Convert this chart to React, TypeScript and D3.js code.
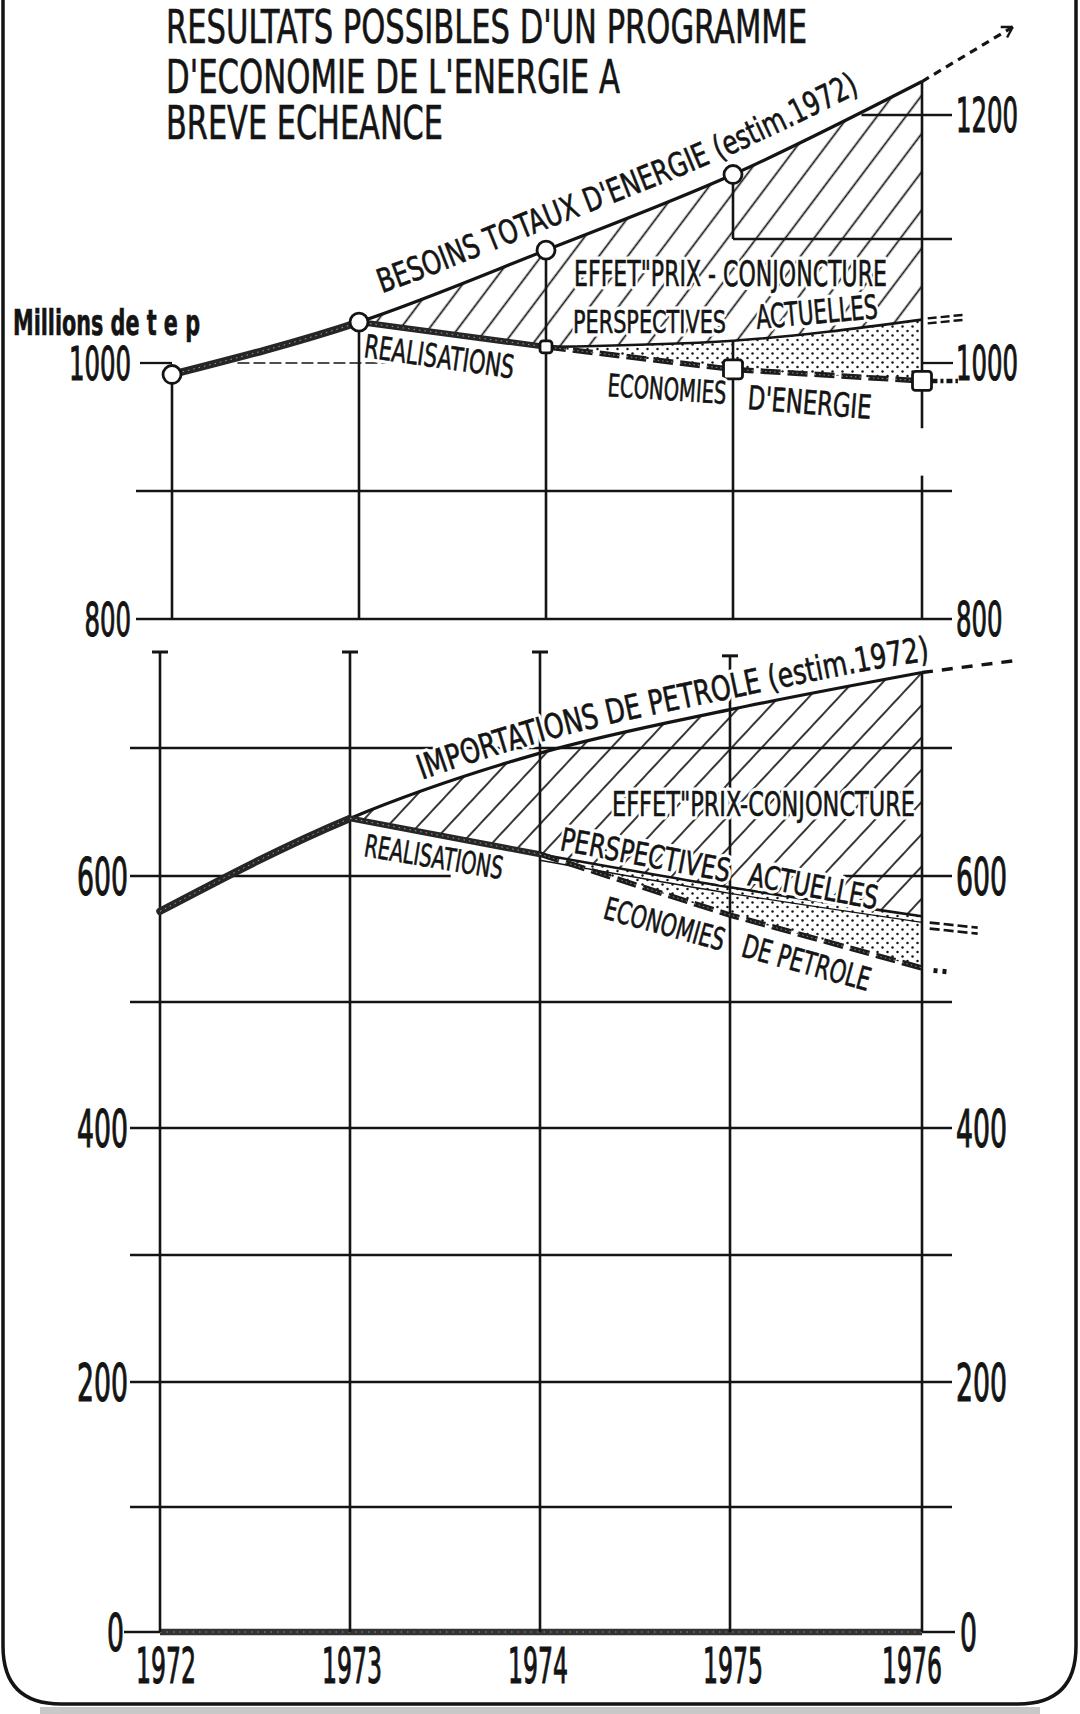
import React, { useLayoutEffect, useRef, useState } from "react";
import * as d3 from "d3";

type P = [number, number];

// ---------- DATA ----------
const years = [1972, 1973, 1974, 1975, 1976];
const realisationYears = [1972, 1973, 1974];
const projectionYears = [1974, 1975, 1976];

// top panel : besoins totaux d'energie (Mtep)
const besoinsTotaux = [991, 1033, 1091, 1152, 1227];
const realisationsEnergie = [991, 1033, 1013];
const perspectivesEnergie = [1013, 1018, 1035];
const economiesEnergie = [1013, 995, 986];

// bottom panel : importations de petrole (Mtep)
const importationsPetrole = [572, 645, 696, 730, 759];
const realisationsPetrole = [572, 645, 617];
const perspectivesPetrole = [617, 591, 568];
const economiesPetrole = [617, 569, 527];

// extrapolations beyond 1976 [year, value]
const besoinsSuite: P[] = [[1976, 1227], [1976.48, 1271]];
const perspectivesEnergieSuite: P[] = [[1976.03, 1036], [1976.23, 1039]];
const economiesEnergieSuite: P[] = [[1976.05, 986], [1976.19, 986]];
const importationsSuite: P[] = [[1976, 759], [1976.47, 768]];
const perspectivesPetroleSuite: P[] = [[1976.04, 563], [1976.29, 559]];
const economiesPetroleSuite: P[] = [[1976.06, 525], [1976.13, 524]];

const topGridValues = [800, 900, 1000, 1100, 1200];
const topLeftTicks = [1000, 800];
const topRightTicks = [1200, 1000, 800];
const bottomGridValues = [100, 200, 300, 400, 500, 600, 700];
const bottomTicks = [600, 400, 200, 0];
const yearLabels = ["1972", "1973", "1974", "1975", "1976"];

const titleLines = [
  "RESULTATS POSSIBLES D'UN PROGRAMME",
  "D'ECONOMIE DE L'ENERGIE A",
  "BREVE ECHEANCE",
];

// ---------- LAYOUT ----------
const W = 1080;
const H = 1714;
const FONT = "'DejaVu Sans Condensed', 'Liberation Sans Narrow', 'DejaVu Sans', sans-serif";
const INK = "#141414";

const xTop = d3.scaleLinear().domain(years).range([172, 359, 546, 733, 922]);
const yTop = d3.scaleLinear().domain([800, 1000, 1200]).range([619, 363, 115]);
const xBot = d3.scaleLinear().domain(years).range([160, 350, 540, 730, 922]);
const yBot = d3.scaleLinear().domain([0, 200, 400, 600, 700]).range([1632, 1382, 1128, 876, 748]);
const xYearLabel = d3.scaleLinear().domain(years).range([166, 352, 538, 733, 912]);

const TOP_L = 136;
const BOT_L = 130;
const RIGHT = 952;

const zip = (xs: number[], vs: number[]): P[] => xs.map((x, i) => [x, vs[i]]);
const mkLine = (xs: any, ys: any, curve: any, dy = 0) =>
  d3.line<P>().x((d) => xs(d[0])).y((d) => ys(d[1]) + dy).curve(curve);
const mkArea = (xs: any, ys: any, curve: any, base: number) =>
  d3.area<P>().x((d) => xs(d[0])).y0(base).y1((d) => ys(d[1])).curve(curve);

const M = d3.curveMonotoneX;
const L = d3.curveLinear;

const Chain = ({ d, w = 7, clip }: { d: string; w?: number; clip?: string }) => (
  <g clipPath={clip}>
    <path d={d} fill="none" stroke="#262626" strokeWidth={w} strokeLinecap="round" strokeLinejoin="round" />
    <path d={d} fill="none" stroke="#fff" strokeWidth={1} strokeDasharray="1.5 4" opacity={0.55} />
  </g>
);

const DashBold = ({ d }: { d: string }) => (
  <g>
    <path d={d} fill="none" stroke="#1c1c1c" strokeWidth={5.5} strokeDasharray="20 7" />
    <path d={d} fill="none" stroke="#fff" strokeWidth={1} strokeDasharray="1.5 3" opacity={0.5} />
  </g>
);

const Label = ({
  text, x, y, a = 0, len, size, halo = true, weight = 400,
}: { text: string; x: number; y: number; a?: number; len: number; size: number; halo?: boolean; weight?: number }) => {
  const tr = `translate(${x},${y}) rotate(${a})`;
  return (
    <g>
      {halo && (
        <text transform={tr} fontSize={size} textLength={len} lengthAdjust="spacingAndGlyphs"
          fill="#fff" stroke="#fff" strokeWidth={7} strokeLinejoin="round" fontWeight={weight}>{text}</text>
      )}
      <text transform={tr} fontSize={size} textLength={len} lengthAdjust="spacingAndGlyphs"
        fill={INK} stroke={INK} strokeWidth={0.6} fontWeight={weight}>{text}</text>
    </g>
  );
};

// narrow numerals: horizontal squeeze by transform + exact width by textLength
const Num = ({ t, x, y, size, anchor, width }: { t: string; x: number; y: number; size: number; anchor: string; width: number }) => {
  const sx = 0.55;
  return (
    <text transform={`translate(${x},${y}) scale(${sx},1)`} fontSize={size} textAnchor={anchor} fill={INK}
      stroke={INK} strokeWidth={0.6 / sx} textLength={width / sx} lengthAdjust="spacingAndGlyphs">{t}</text>
  );
};

export default function App() {
  const besRef = useRef<SVGPathElement>(null);
  const impRef = useRef<SVGPathElement>(null);
  const [besFit, setBesFit] = useState({ s: 220, l: 520 });
  const [impFit, setImpFit] = useState({ s: 270, l: 530 });

  useLayoutEffect(() => {
    const fit = (p: SVGPathElement, x0: number, x1: number) => {
      const total = p.getTotalLength();
      const at = (tx: number) => {
        let lo = 0, hi = total;
        for (let i = 0; i < 40; i++) {
          const m = (lo + hi) / 2;
          if (p.getPointAtLength(m).x < tx) lo = m; else hi = m;
        }
        return lo;
      };
      const s = at(x0);
      return { s, l: at(x1) - s };
    };
    if (besRef.current) setBesFit(fit(besRef.current, 382, 860));
    if (impRef.current) setImpFit(fit(impRef.current, 422, 930));
  }, []);

  // ----- top series -----
  const bes = zip(years, besoinsTotaux);
  const realT = zip(realisationYears, realisationsEnergie);
  const perT = zip(projectionYears, perspectivesEnergie);
  const ecoT = zip(projectionYears, economiesEnergie);
  const tM = mkLine(xTop, yTop, M);
  const tL = mkLine(xTop, yTop, L);

  // ----- bottom series -----
  const imp = zip(years, importationsPetrole);
  const realB = zip(realisationYears, realisationsPetrole);
  const perB = zip(projectionYears, perspectivesPetrole);
  const ecoB = zip(projectionYears, economiesPetrole);
  const bM = mkLine(xBot, yBot, M);
  const bL = mkLine(xBot, yBot, L);

  const besLabelD = mkLine(xTop, yTop, M, -21)(bes) as string;
  const impLabelD = mkLine(xBot, yBot, M, -11)([...imp, importationsSuite[1]]) as string;

  // arrow at the end of the besoins extrapolation
  const e0 = [xTop(besoinsSuite[0][0]), yTop(besoinsSuite[0][1])];
  const e1 = [xTop(besoinsSuite[1][0]), yTop(besoinsSuite[1][1])];
  const ang = Math.atan2(e1[1] - e0[1], e1[0] - e0[0]);
  const arrowD = [ang + 2.6, ang - 2.6]
    .map((t) => `M${e1[0]},${e1[1]}L${e1[0] + 12 * Math.cos(t)},${e1[1] + 12 * Math.sin(t)}`)
    .join("");

  const topVerticals: [number, number, number][] = [
    [1972, besoinsTotaux[0], 800],
    [1973, besoinsTotaux[1], 800],
    [1974, besoinsTotaux[2], 800],
    [1975, besoinsTotaux[3], 1100],
    [1975, perspectivesEnergie[1], 800],
    [1976, besoinsTotaux[4], 949],
    [1976, 912, 800],
  ];
  const bottomVerticals: [number, number, number, boolean][] = [
    [1972, 775, 0, true],
    [1973, 775, 0, true],
    [1974, 775, 0, true],
    [1975, 772, 0, true],
    [1976, importationsPetrole[4], 0, false],
  ];

  const topGridSpans = (v: number): [number, number][] => {
    if (v === 1000) return [[140, xTop(1972)], [xTop(1976), RIGHT + 1]];
    if (v === 1100) return [[xTop(1975), RIGHT]];
    if (v === 1200) return [[xTop(1975.68), RIGHT]];
    return [[TOP_L, RIGHT]];
  };
  const botGridSpans = (v: number): [number, number][] => {
    if (v === 600) return [[BOT_L, xBot(1973.53)], [xBot(1975.59), RIGHT]];
    return [[BOT_L, RIGHT]];
  };

  const gridStroke = { stroke: INK, strokeWidth: 2.3, fill: "none" };

  return (
    <svg width={W} height={H} viewBox={`0 0 ${W} ${H}`}
      style={{ position: "absolute", left: 0, top: 0, display: "block", background: "#fff" }}
      fontFamily={FONT} fontStretch="condensed">
      <defs>
        <pattern id="hatchTop" patternUnits="userSpaceOnUse" width="23" height="23" patternTransform="rotate(37)">
          <line x1="11.5" y1="-1" x2="11.5" y2="24" stroke={INK} strokeWidth="1.7" />
        </pattern>
        <pattern id="hatchBot" patternUnits="userSpaceOnUse" width="22" height="22" patternTransform="rotate(43)">
          <line x1="11" y1="-1" x2="11" y2="23" stroke={INK} strokeWidth="1.7" />
        </pattern>
        <pattern id="dots" patternUnits="userSpaceOnUse" width="10" height="9">
          <circle cx="2.5" cy="2.5" r="1.25" fill={INK} />
          <circle cx="7.5" cy="7" r="1.25" fill={INK} />
        </pattern>
        <clipPath id="tBelowBes"><path d={mkArea(xTop, yTop, M, yTop(800))(bes) as string} /></clipPath>
        <clipPath id="tAboveLow">
          <path d={mkArea(xTop, yTop, L, 0)(realT.slice(1)) as string} />
          <path d={mkArea(xTop, yTop, M, 0)(perT) as string} />
        </clipPath>
        <clipPath id="tBelowPer"><path d={mkArea(xTop, yTop, M, yTop(800))(perT) as string} /></clipPath>
        <clipPath id="tAboveEco"><path d={mkArea(xTop, yTop, L, 0)(ecoT) as string} /></clipPath>
        <clipPath id="tRealSeg"><rect x={xTop(1972) - 12} y={0} width={xTop(1973) - xTop(1972) + 12} height={H} /></clipPath>

        <clipPath id="bBelowImp"><path d={mkArea(xBot, yBot, M, yBot(0))(imp) as string} /></clipPath>
        <clipPath id="bAboveLow">
          <path d={mkArea(xBot, yBot, L, 0)(realB.slice(1)) as string} />
          <path d={mkArea(xBot, yBot, M, 0)(perB) as string} />
        </clipPath>
        <clipPath id="bBelowPer"><path d={mkArea(xBot, yBot, M, yBot(0))(perB) as string} /></clipPath>
        <clipPath id="bAboveEco"><path d={mkArea(xBot, yBot, L, 0)(ecoB) as string} /></clipPath>
        <clipPath id="bRealSeg"><rect x={xBot(1972) - 12} y={0} width={xBot(1973) - xBot(1972) + 12} height={H} /></clipPath>
      </defs>

      <rect x={0} y={0} width={W} height={H} fill="#fff" />

      {/* frame */}
      <path d={`M3,0V1646Q3,1704 61,1704H1018Q1076,1704 1076,1646V0`} fill="none" stroke={INK} strokeWidth={3.5} />
      <rect x={40} y={1707} width={1000} height={7} fill="#c8c8c8" />

      {/* ---------- areas ---------- */}
      <g clipPath="url(#tBelowBes)"><g clipPath="url(#tAboveLow)">
        <rect x={0} y={0} width={W} height={yTop(800)} fill="url(#hatchTop)" />
      </g></g>
      <g clipPath="url(#tBelowPer)"><g clipPath="url(#tAboveEco)">
        <rect x={0} y={0} width={W} height={yTop(800)} fill="url(#dots)" />
      </g></g>
      <g clipPath="url(#bBelowImp)"><g clipPath="url(#bAboveLow)">
        <rect x={0} y={600} width={W} height={yBot(0) - 600} fill="url(#hatchBot)" />
      </g></g>
      <g clipPath="url(#bBelowPer)"><g clipPath="url(#bAboveEco)">
        <rect x={0} y={600} width={W} height={yBot(0) - 600} fill="url(#dots)" />
      </g></g>

      {/* ---------- grid lines ---------- */}
      {topGridValues.map((v) =>
        topGridSpans(v).map(([a, b], i) => (
          <line key={`tg${v}-${i}`} x1={a} x2={b} y1={yTop(v)} y2={yTop(v)} {...gridStroke} />
        ))
      )}
      <line x1={xTop(1972.35)} x2={xTop(1973.18)} y1={yTop(1000)} y2={yTop(1000)}
        stroke={INK} strokeWidth={1.6} strokeDasharray="12 4" />
      {bottomGridValues.map((v) =>
        botGridSpans(v).map(([a, b], i) => (
          <line key={`bg${v}-${i}`} x1={a} x2={b} y1={yBot(v)} y2={yBot(v)} {...gridStroke} />
        ))
      )}
      <line x1={124} x2={xBot(1972)} y1={yBot(0)} y2={yBot(0)} {...gridStroke} />
      <line x1={xBot(1976)} x2={955} y1={yBot(0)} y2={yBot(0)} {...gridStroke} />
      <path d={`M${xBot(1972)},${yBot(0)}H${xBot(1976)}`} stroke="#333" strokeWidth={6.5} fill="none" />
      <path d={`M${xBot(1972)},${yBot(0)}H${xBot(1976)}`} stroke="#fff" strokeWidth={1} strokeDasharray="1.5 5" opacity={0.45} fill="none" />

      {/* ---------- vertical year lines ---------- */}
      {topVerticals.map(([yr, a, b], i) => (
        <line key={`tv${i}`} x1={xTop(yr)} x2={xTop(yr)} y1={yTop(a)} y2={yTop(b)} stroke={INK} strokeWidth={2.6} />
      ))}
      {bottomVerticals.map(([yr, a, b, cap], i) => (
        <g key={`bv${i}`}>
          <line x1={xBot(yr)} x2={xBot(yr)} y1={yBot(a)} y2={yBot(b)} stroke={INK} strokeWidth={2.6} />
          {cap && <line x1={xBot(yr) - 8} x2={xBot(yr) + 8} y1={yBot(a)} y2={yBot(a)} stroke={INK} strokeWidth={3} />}
        </g>
      ))}

      {/* ---------- top series ---------- */}
      <path d={tM(bes) as string} fill="none" stroke={INK} strokeWidth={3.2} />
      <path d={tM(besoinsSuite) as string} fill="none" stroke={INK} strokeWidth={3.2} strokeDasharray="8 6" />
      <path d={arrowD} fill="none" stroke={INK} strokeWidth={2.4} />
      <Chain d={tM(bes) as string} w={7.5} clip="url(#tRealSeg)" />
      <Chain d={tL(realT.slice(1)) as string} w={6} />
      <path d={tM(perT) as string} fill="none" stroke={INK} strokeWidth={2.6} />
      <DashBold d={tL(ecoT) as string} />
      <path d={tL(perspectivesEnergieSuite) as string} fill="none" stroke={INK} strokeWidth={2.4} strokeDasharray="9 4" />
      <path d={mkLine(xTop, yTop, L, 5)(perspectivesEnergieSuite) as string} fill="none" stroke={INK} strokeWidth={2.4} strokeDasharray="9 4" />
      <path d={tL(economiesEnergieSuite) as string} fill="none" stroke={INK} strokeWidth={4.5} strokeDasharray="6 3 3 3" />

      {/* markers */}
      {bes.slice(0, 4).map((d, i) => (
        <circle key={`c${i}`} cx={xTop(d[0])} cy={yTop(d[1])} r={9} fill="#fff" stroke={INK} strokeWidth={2.8} />
      ))}
      {[{ p: realT[2], s: 12 }, { p: ecoT[1], s: 19 }, { p: ecoT[2], s: 19 }].map(({ p, s }, i) => (
        <rect key={`s${i}`} x={xTop(p[0]) - s / 2} y={yTop(p[1]) - s / 2} width={s} height={s} rx={3}
          fill="#fff" stroke={INK} strokeWidth={2.8} />
      ))}

      {/* ---------- bottom series ---------- */}
      <path d={bM(imp) as string} fill="none" stroke={INK} strokeWidth={3.2} />
      <path d={bL(importationsSuite) as string} fill="none" stroke={INK} strokeWidth={3.4} strokeDasharray="11 9" />
      <Chain d={bM(imp) as string} w={7.5} clip="url(#bRealSeg)" />
      <Chain d={bL(realB.slice(1)) as string} w={6} />
      <path d={bM(perB) as string} fill="none" stroke={INK} strokeWidth={2.6} />
      <path d={mkLine(xBot, yBot, M, 6)(perB) as string} fill="none" stroke={INK} strokeWidth={1.3} />
      <DashBold d={bL(ecoB) as string} />
      <path d={bL(perspectivesPetroleSuite) as string} fill="none" stroke={INK} strokeWidth={2.6} strokeDasharray="10 4" />
      <path d={mkLine(xBot, yBot, L, 6)(perspectivesPetroleSuite) as string} fill="none" stroke={INK} strokeWidth={2.6} strokeDasharray="10 4" />
      <path d={bL(economiesPetroleSuite) as string} fill="none" stroke={INK} strokeWidth={5} strokeDasharray="4 5" />

      {/* ---------- curved labels ---------- */}
      <path id="besLabelPath" ref={besRef} d={besLabelD} fill="none" stroke="none" />
      <path id="impLabelPath" ref={impRef} d={impLabelD} fill="none" stroke="none" />
      {["halo", "ink"].map((k) => (
        <text key={`bl${k}`} fontSize={33} fill={k === "halo" ? "#fff" : INK}
          stroke={k === "halo" ? "#fff" : INK} strokeWidth={k === "halo" ? 7 : 0.6} strokeLinejoin="round">
          <textPath href="#besLabelPath" startOffset={besFit.s} textLength={besFit.l} lengthAdjust="spacingAndGlyphs">
            BESOINS TOTAUX D'ENERGIE (estim.1972)
          </textPath>
        </text>
      ))}
      {["halo", "ink"].map((k) => (
        <text key={`il${k}`} fontSize={34} fill={k === "halo" ? "#fff" : INK}
          stroke={k === "halo" ? "#fff" : INK} strokeWidth={k === "halo" ? 7 : 0.6} strokeLinejoin="round">
          <textPath href="#impLabelPath" startOffset={impFit.s} textLength={impFit.l} lengthAdjust="spacingAndGlyphs">
            IMPORTATIONS DE PETROLE (estim.1972)
          </textPath>
        </text>
      ))}

      {/* ---------- straight labels ---------- */}
      <Label text={'EFFET"PRIX - CONJONCTURE'} x={574} y={286} len={313} size={35} />
      <Label text="PERSPECTIVES" x={573} y={333} len={153} size={32} />
      <Label text="ACTUELLES" x={757} y={329} a={-5.2} len={122} size={33} />
      <Label text="REALISATIONS" x={363} y={357} a={8.1} len={151} size={32} />
      <Label text="ECONOMIES" x={607} y={396} a={3.8} len={119} size={31} />
      <Label text="D'ENERGIE" x={747} y={409} a={4.6} len={124} size={33} />

      <Label text={'EFFET"PRIX-CONJONCTURE'} x={612} y={816} len={303} size={33} />
      <Label text="PERSPECTIVES" x={559} y={850} a={10.7} len={172} size={32} />
      <Label text="ACTUELLES" x={747} y={885} a={10.7} len={131} size={32} />
      <Label text="REALISATIONS" x={363} y={856} a={9.5} len={140} size={31} />
      <Label text="ECONOMIES" x={602} y={918} a={15.4} len={124} size={31} />
      <Label text="DE PETROLE" x={740} y={956} a={15.4} len={132} size={32} />

      {/* title */}
      {titleLines.map((t, i) => (
        <Label key={`t${i}`} text={t} x={166} y={[43, 93, 139][i]} len={[641, 454, 277][i]} size={46} halo={false} />
      ))}
      <Label text="Millions de t e p" x={13} y={335} len={187} size={36} weight={700} halo={false} />

      {/* axis tick labels */}
      {topLeftTicks.map((v) => (
        <Num key={`tl${v}`} t={String(v)} x={131} y={yTop(v) + 17} size={47} anchor="end" width={String(v).length * 15.5} />
      ))}
      {topRightTicks.map((v) => (
        <Num key={`tr${v}`} t={String(v)} x={956} y={yTop(v) + 17} size={48} anchor="start" width={String(v).length * 15.5} />
      ))}
      {bottomTicks.map((v) => (
        <Num key={`bl${v}`} t={String(v)} x={v === 0 ? 124 : 128} y={yBot(v) + 19} size={51} anchor="end" width={String(v).length * 17} />
      ))}
      {bottomTicks.map((v) => (
        <Num key={`br${v}`} t={String(v)} x={v === 0 ? 960 : 956} y={yBot(v) + 19} size={51} anchor="start" width={String(v).length * 17} />
      ))}
      {yearLabels.map((t, i) => (
        <Num key={`y${t}`} t={t} x={xYearLabel(years[i])} y={1683} size={50} anchor="middle" width={60} />
      ))}
    </svg>
  );
}
